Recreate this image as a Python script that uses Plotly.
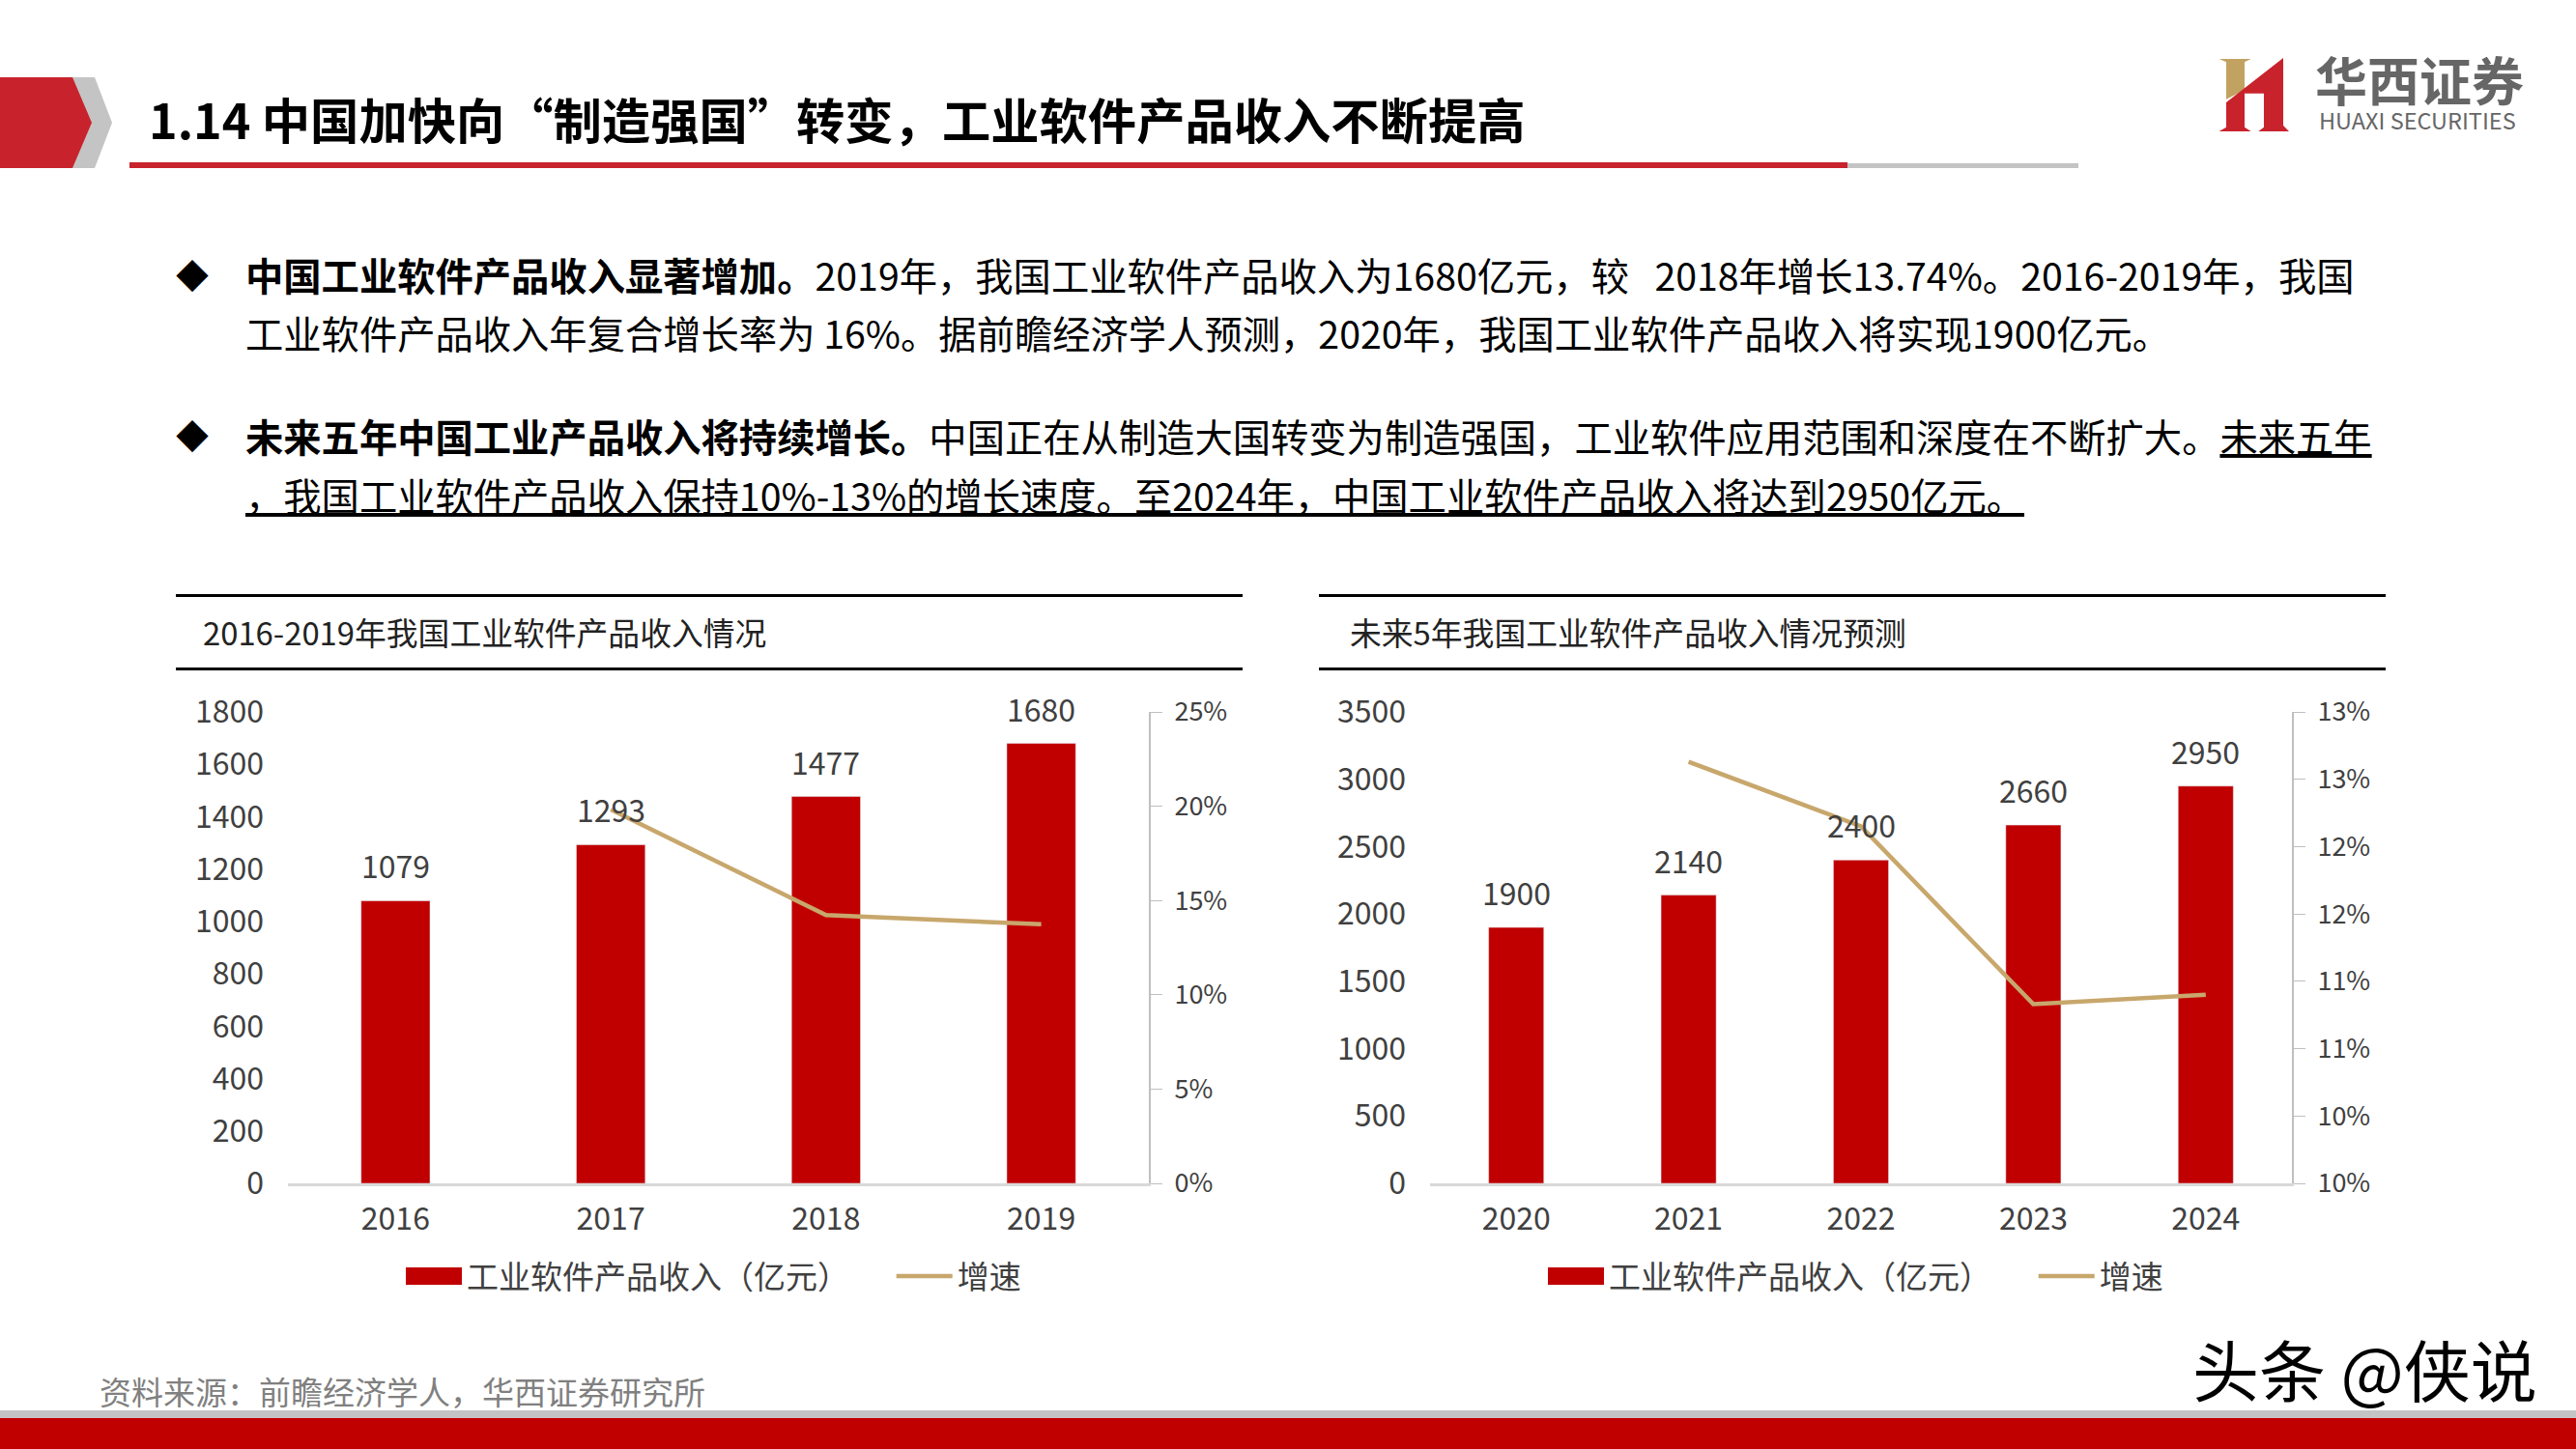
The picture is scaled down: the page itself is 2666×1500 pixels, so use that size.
import plotly.graph_objects as go

W, H = 2666, 1500
FONT = "Noto Sans CJK SC"

# ---- data ----
years_a = ["2016", "2017", "2018", "2019"]
revenue_a = [1079, 1293, 1477, 1680]
growth_a = [None, 19.83, 14.23, 13.74]
years_b = ["2020", "2021", "2022", "2023", "2024"]
revenue_b = [1900, 2140, 2400, 2660, 2950]
growth_b = [None, 12.63, 12.15, 10.83, 10.90]
ticks_a_right = [0, 5, 10, 15, 20, 25]
ticktext_a_right = ["0%", "5%", "10%", "15%", "20%", "25%"]
ticks_b_right = [9.5, 10, 10.5, 11, 11.5, 12, 12.5, 13]
ticktext_b_right = ["10%", "10%", "11%", "11%", "12%", "12%", "13%", "13%"]
bar_name = "工业软件产品收入（亿元）"
line_name = "增速"
title_a = "2016-2019年我国工业软件产品收入情况"
title_b = "未来5年我国工业软件产品收入情况预测"
heading = "1.14 中国加快向“制造强国”转变，工业软件产品收入不断提高"
body_lines = [
    "<b>中国工业软件产品收入显著增加。</b>2019年，我国工业软件产品收入为1680亿元，较\u00a0\u00a0\u00a02018年增长13.74%。2016-2019年，我国",
    "工业软件产品收入年复合增长率为 16%。据前瞻经济学人预测，2020年，我国工业软件产品收入将实现1900亿元。",
    "<b>未来五年中国工业产品收入将持续增长。</b>中国正在从制造大国转变为制造强国，工业软件应用范围和深度在不断扩大。<u>未来五年</u>",
    "<u>，我国工业软件产品收入保持10%-13%的增长速度。至2024年，中国工业软件产品收入将达到2950亿元。</u>",
]
source = "资料来源：前瞻经济学人，华西证券研究所"
watermark = "头条 @侠说"

RED = "#C00000"
TAN = "#C8A76C"
TXT = "#404040"
AXIS = "#D9D9D9"
RAXIS = "#BFBFBF"


def px(x):
    return x / W


def py(y):
    return 1 - y / H


def poly(pts, color):
    d = "M" + " L".join(f"{px(x):.5f},{py(y):.5f}" for x, y in pts) + " Z"
    return dict(type="path", xref="paper", yref="paper", path=d,
                fillcolor=color, line=dict(width=0), layer="above")


def rect(x0, y0, x1, y1, color, layer="below"):
    return dict(type="rect", xref="paper", yref="paper", x0=px(x0), x1=px(x1),
                y0=py(y0), y1=py(y1), fillcolor=color, line=dict(width=0), layer=layer)


def label(x, y, text, size, color="#000000", anchor="left"):
    return dict(xref="paper", yref="paper", x=px(x), y=py(y), text=text, showarrow=False,
                xanchor=anchor, yanchor="middle", align=anchor,
                font=dict(family=FONT, size=size, color=color), borderpad=0)


fig = go.Figure()


def panel(cats, rev, gr, xa, ya, ya2, legend):
    xs = "x" if xa == 1 else f"x{xa}"
    ys = f"y{ya}" if ya > 1 else "y"
    ys2 = f"y{ya2}"
    fig.add_trace(go.Bar(x=cats, y=rev, name=bar_name, width=0.32, marker_color=RED,
                         xaxis=xs, yaxis=ys, showlegend=False))
    fig.add_trace(go.Scatter(x=cats, y=gr, name=line_name, mode="lines", xaxis=xs, yaxis=ys2,
                             line=dict(color=TAN, width=4.5), showlegend=False))
    # legend keys, wide like the original's
    fig.add_trace(go.Scatter(x=[None], y=[None], name=bar_name + "\u3000\u00a0\u00a0\u00a0", mode="lines",
                             xaxis=xs, yaxis=ys, line=dict(color=RED, width=18), legend=legend))
    fig.add_trace(go.Scatter(x=[None], y=[None], name=line_name, mode="lines", xaxis=xs, yaxis=ys,
                             line=dict(color=TAN, width=4.5), legend=legend))


panel(years_a, revenue_a, growth_a, 1, 1, 2, "legend")
panel(years_b, revenue_b, growth_b, 2, 3, 4, "legend2")

ydom = [py(1225), py(737)]
tick = dict(family=FONT, size=32, color=TXT)
rtick = dict(family=FONT, size=27, color=TXT)


def xaxis(left, right, anchor, n):
    return dict(domain=[px(left), px(right)], type="category", range=[-0.5, n - 0.5], anchor=anchor,
                showgrid=False, showline=True, linecolor=AXIS, linewidth=3, ticks="", tickfont=tick,
                ticklabelstandoff=7, zeroline=False)


def yaxis(rng, dtick, anchor):
    return dict(domain=ydom, range=rng, dtick=dtick, anchor=anchor, showgrid=False, zeroline=False,
                showline=False, ticks="", tickfont=tick, ticklabelstandoff=24)


def y2axis(rng, tv, tt, anchor, over):
    return dict(domain=ydom, range=rng, tickvals=tv, ticktext=tt, anchor=anchor, overlaying=over,
                side="right", showgrid=False, zeroline=False, showline=True, linecolor=RAXIS,
                linewidth=2, ticks="outside", ticklen=12, tickcolor=RAXIS, tickwidth=1,
                tickfont=rtick, ticklabelstandoff=7)


def legend(x, y):
    return dict(orientation="h", x=px(x), y=py(y), xanchor="left", yanchor="middle", itemwidth=58,
                font=dict(family=FONT, size=33, color=TXT), bgcolor="rgba(0,0,0,0)",
                tracegroupgap=0, itemclick=False, itemdoubleclick=False)


shapes = [
    poly([(75, 80), (98, 80), (116, 127), (98, 174), (75, 174)], "#C4C4C4"),
    poly([(0, 80), (75, 80), (95, 127), (75, 174), (0, 174)], "#C8232C"),
    rect(134, 168, 1912, 174, "#C8232C"),
    rect(1912, 169, 2151, 174, "#C4C4C4"),
    rect(182, 615, 1286, 618, "#000000"),
    rect(182, 691, 1286, 694, "#000000"),
    rect(1365, 615, 2469, 618, "#000000"),
    rect(1365, 691, 2469, 694, "#000000"),
    rect(0, 1460, W, 1468, "#C4C4C4"),
    rect(0, 1468, W, H, RED),
    rect(420, 1312, 478, 1330, RED, "above"),
    rect(1602, 1312, 1660, 1330, RED, "above"),
]


def lp(X, Y):
    return (2199 + X / 3, 30 + Y / 3)


shapes += [
    poly([lp(*p) for p in [(293, 93), (392, 93), (372, 103), (372, 190), (315, 218), (315, 103)]], "#C2A261"),
    poly([lp(*p) for p in [(492, 90), (492, 300), (510, 318), (415, 318), (432, 305), (432, 200), (372, 200),
                           (372, 305), (392, 318), (293, 318), (315, 305), (315, 228)]], "#C8232C"),
]

annos = [
    label(153, 122, f"<b>{heading}</b>", 50.3),
    label(209, 653, title_a, 32.8, "#222222"),
    label(1396, 653, title_b, 32.8, "#222222"),
    label(102, 1440, source, 33, "#808080"),
    label(2268, 1416, watermark, 69),
    label(2395, 82, "<b>华西证券</b>", 54, "#666666"),
    label(2399, 124, "HUAXI SECURITIES", 23.5, "#666666"),
    label(181, 285, "◆", 34),
    label(181, 451, "◆", 34),
]
for y, t in zip([283, 343, 451, 511], body_lines):
    annos.append(label(253, y, t, 39.3))


def value_labels(rev, xr, yr):
    return [dict(x=i, y=v, xref=xr, yref=yr, text=str(v), showarrow=False, yshift=37, yanchor="middle",
                 font=dict(family=FONT, size=32, color=TXT)) for i, v in enumerate(rev)]


annos += value_labels(revenue_a, "x", "y") + value_labels(revenue_b, "x2", "y3")

fig.update_layout(
    width=W, height=H, margin=dict(l=0, r=0, t=0, b=0, pad=0, autoexpand=False),
    paper_bgcolor="white", plot_bgcolor="white",
    font=dict(family=FONT), bargap=0.68,
    xaxis=xaxis(298, 1189, "y", len(years_a)),
    yaxis=yaxis([0, 1800], 200, "x"),
    yaxis2=y2axis([0, 25], ticks_a_right, ticktext_a_right, "x", "y"),
    xaxis2=xaxis(1480, 2372, "y3", len(years_b)),
    yaxis3=yaxis([0, 3500], 500, "x2"),
    yaxis4=y2axis([9.5, 13], ticks_b_right, ticktext_b_right, "x2", "y3"),
    legend=legend(415, 1321),
    legend2=legend(1597, 1321),
    shapes=shapes, annotations=annos,
)

fig.write_html("out.html", config=dict(displayModeBar=False),
               post_script="document.body.style.margin='0';document.body.style.overflow='hidden';")
